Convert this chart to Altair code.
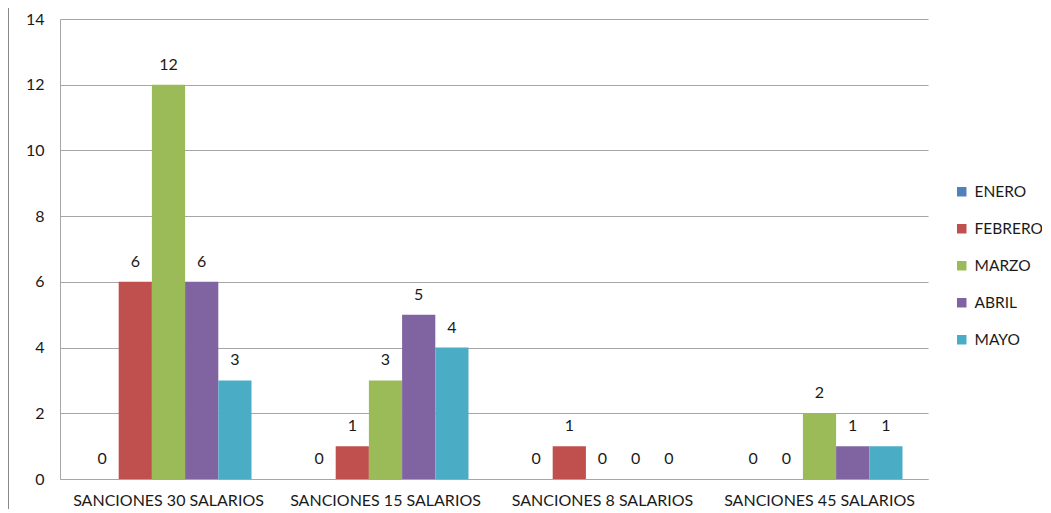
import altair as alt
import pandas as pd

categories = ["SANCIONES 30 SALARIOS", "SANCIONES 15 SALARIOS", "SANCIONES 8 SALARIOS", "SANCIONES 45 SALARIOS"]
months = ["ENERO", "FEBRERO", "MARZO", "ABRIL", "MAYO"]
values = {
    "ENERO":   [0, 0, 0, 0],
    "FEBRERO": [6, 1, 1, 0],
    "MARZO":   [12, 3, 0, 2],
    "ABRIL":   [6, 5, 0, 1],
    "MAYO":    [3, 4, 0, 1],
}
colors = ["#4F81BD", "#C0504D", "#9BBB59", "#8064A2", "#4BACC6"]

rows = []
for m in months:
    for c, v in zip(categories, values[m]):
        rows.append({"cat": c, "mes": m, "val": v})
df = pd.DataFrame(rows)

FONT = "Lato"
FS = 16

x = alt.X("cat:N", sort=categories, title=None,
          scale=alt.Scale(paddingInner=0.235, paddingOuter=0.1175),
          axis=alt.Axis(labelAngle=0, labelFontSize=FS, labelColor="#1a1a1a", labelPadding=13,
                        labelLimit=0, ticks=False, domainColor="#A6A6A6", labelFont=FONT))
y = alt.Y("val:Q", title=None,
          scale=alt.Scale(domain=[0, 14]),
          axis=alt.Axis(values=list(range(0, 15, 2)), labelFontSize=FS, labelColor="#1a1a1a",
                        ticks=False, domainColor="#A6A6A6", gridColor="#A6A6A6",
                        labelPadding=16, labelFont=FONT))
xo = alt.XOffset("mes:N", sort=months)

base = alt.Chart(df)
bars = base.mark_bar().encode(
    x=x, y=y, xOffset=xo,
    color=alt.Color("mes:N", sort=months, scale=alt.Scale(domain=months, range=colors),
                    legend=alt.Legend(title=None, orient="none", legendX=894, legendY=165,
                                      symbolType="square", symbolSize=90, labelFontSize=15.5,
                                      labelFont=FONT, labelColor="#1a1a1a", rowPadding=20,
                                      symbolStrokeWidth=0, labelOffset=5)),
)
labels = base.mark_text(baseline="bottom", dy=-12, fontSize=FS, font=FONT, color="#1a1a1a").encode(
    x=x, y=y, xOffset=xo, text="val:Q"
)
border = alt.Chart(pd.DataFrame({"a": [0]})).mark_rule(color="#888", strokeWidth=2, clip=False).encode(
    x=alt.value(-52), y=alt.value(-19), y2=alt.value(30 + 460)
)

chart = alt.layer(bars, labels, border).properties(
    width=868, height=460,
    padding={"left": 52, "top": 11, "right": 114, "bottom": 30},
    autosize=alt.AutoSizeParams(type="none"),
).configure_view(stroke=None).configure_axis(domainWidth=1)

chart.save("out.html", embed_options={"renderer": "svg", "actions": False})
